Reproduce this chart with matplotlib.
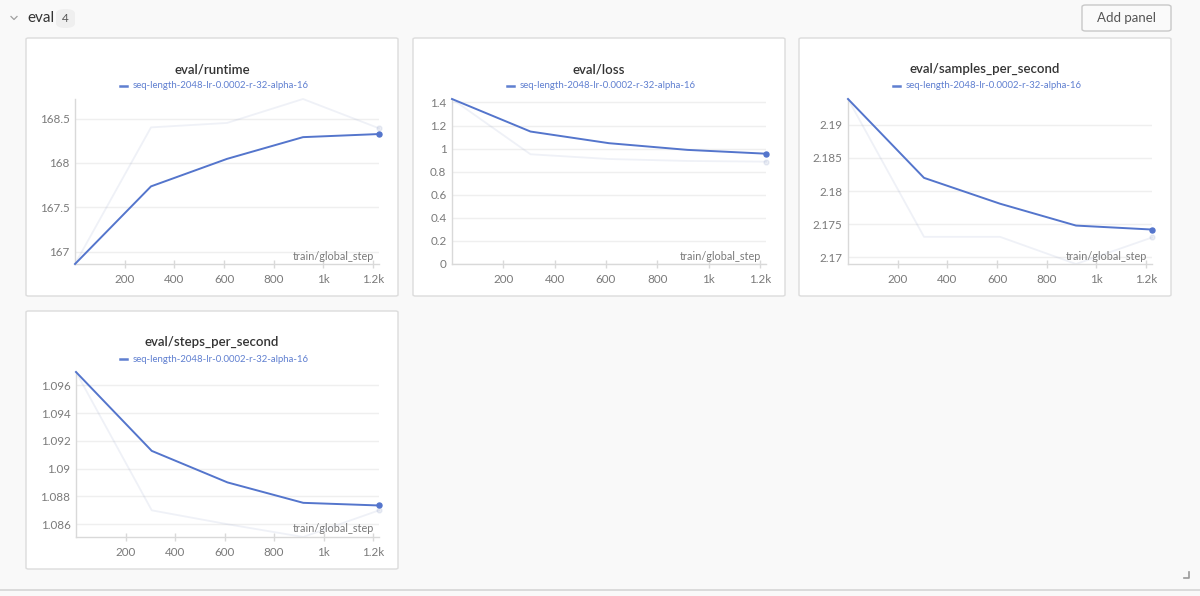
import matplotlib
matplotlib.use("Agg")
import matplotlib.pyplot as plt
from matplotlib.patches import FancyBboxPatch
from matplotlib.lines import Line2D
from matplotlib.ticker import MultipleLocator, FuncFormatter, FixedLocator

plt.rcParams['font.family'] = ['Lato', 'DejaVu Sans']

W, H = 1200, 596

# ---------------- data ----------------
steps = [0, 306, 612, 918, 1224]
run_name = "seq-length-2048-lr-0.0002-r-32-alpha-16"
section_name = "eval"
panel_count = "4"

titles = ["eval/runtime", "eval/loss", "eval/samples_per_second", "eval/steps_per_second"]

runtime_smooth = [166.86, 167.735, 168.045, 168.29, 168.325]
runtime_raw = [166.86, 168.40, 168.45, 168.72, 168.39]

loss_smooth = [1.43, 1.148, 1.047, 0.989, 0.956]
loss_raw = [1.43, 0.951, 0.910, 0.893, 0.887]

sps_smooth = [2.1939, 2.1820, 2.1781, 2.1748, 2.1742]
sps_raw = [2.1939, 2.1731, 2.1731, 2.1690, 2.1730]

stps_smooth = [1.09696, 1.09128, 1.08901, 1.08754, 1.08735]
stps_raw = [1.09696, 1.0870, 1.0860, 1.08508, 1.0870]

x_tick_vals = [200, 400, 600, 800, 1000, 1200]
x_tick_labels = ["200", "400", "600", "800", "1k", "1.2k"]
x_axis_label = "train/global_step"

# ---------------- styling ----------------
BLUE = "#5475cc"
LEG_BLUE = "#5f7fd0"
GRAY_TXT = "#7a7a7a"
BORDER = "#dcdcdc"
BG = "#f9f9f9"

fig = plt.figure(figsize=(W / 100, H / 100), dpi=100, facecolor=BG)


def fx(x):
    return x / W


def fy(y):
    return 1 - y / H


def px_rect(x, y, w, h):
    return [x / W, 1 - (y + h) / H, w / W, h / H]


def fmt(v, pos=None):
    return f"{round(v, 6):g}"


# header
fig.add_artist(Line2D([fx(11), fx(14), fx(17)], [fy(16.5), fy(19.5), fy(16.5)],
                      color="#a0a0a0", lw=0.9, transform=fig.transFigure))
fig.text(fx(27), fy(18.5), section_name, fontsize=11, color="#333333", va="center", ha="left")
fig.add_artist(FancyBboxPatch((fx(56), fy(28)), 19 / W, 19 / H,
                              boxstyle="round,pad=0,rounding_size=0.008",
                              transform=fig.transFigure, fc="#efefef", ec="none"))
fig.text(fx(65.5), fy(18.5), panel_count, fontsize=8.5, color="#555555", va="center", ha="center")

fig.add_artist(FancyBboxPatch((fx(1082), fy(31)), 89 / W, 26 / H,
                              boxstyle="round,pad=0,rounding_size=0.003",
                              transform=fig.transFigure, fc="#fafafa", ec="#c8c8c8", lw=1))
fig.text(fx(1126.5), fy(18.5), "Add panel", fontsize=9.5, color="#555555", va="center", ha="center")

# bottom rule and resize corner
fig.add_artist(Line2D([0, 1], [fy(590), fy(590)], color="#d6d6d6", lw=1.2, transform=fig.transFigure))
fig.add_artist(Line2D([fx(1184), fx(1189), fx(1189)], [fy(578), fy(578), fy(572)],
                      color="#9a9a9a", lw=1.2, transform=fig.transFigure))

panels = [
    dict(pos=(26, 38), left=49, title=titles[0], sm=runtime_smooth, raw=runtime_raw,
         ylim=(min(runtime_raw + runtime_smooth), max(runtime_raw + runtime_smooth)), step=0.5),
    dict(pos=(413, 38), left=39, title=titles[1], sm=loss_smooth, raw=loss_raw,
         ylim=(0, max(loss_raw + loss_smooth)), step=0.2),
    dict(pos=(799, 38), left=49, title=titles[2], sm=sps_smooth, raw=sps_raw,
         ylim=(min(sps_raw + sps_smooth), max(sps_raw + sps_smooth)), step=0.005),
    dict(pos=(26, 311), left=50, title=titles[3], sm=stps_smooth, raw=stps_raw,
         ylim=(min(stps_raw + stps_smooth), max(stps_raw + stps_smooth)), step=0.002),
]

PW, PH = 372, 258

for p in panels:
    x0, y0 = p["pos"]
    fig.add_artist(FancyBboxPatch((fx(x0), fy(y0 + PH)), PW / W, PH / H,
                                  boxstyle="round,pad=0,rounding_size=0.002",
                                  transform=fig.transFigure, fc="white", ec=BORDER, lw=1,
                                  zorder=-5))
    # title and legend
    fig.text(fx(x0 + PW / 2), fy(y0 + 31), p["title"], fontsize=9.5, fontweight="semibold",
             color="#333333", ha="center", va="center")
    fig.add_artist(Line2D([fx(x0 + 94), fx(x0 + 101)], [fy(y0 + 48), fy(y0 + 48)],
                          color=LEG_BLUE, lw=1.8, transform=fig.transFigure))
    fig.text(fx(x0 + 106.5), fy(y0 + 48), run_name, fontsize=6.95, color=LEG_BLUE,
             ha="left", va="center")

    L = p["left"]
    ax = fig.add_axes(px_rect(x0 + L, y0 + 61, 353 - L, 165))
    ax.set_facecolor("none")
    ax.plot(steps, p["raw"], color="#7d8fbf", alpha=0.12, lw=1.3, clip_on=False, zorder=2)
    ax.plot(steps[-1:], p["raw"][-1:], "o", color="#7d8fbf", alpha=0.15, ms=3.5,
            clip_on=False, zorder=2)
    ax.plot(steps, p["sm"], color=BLUE, lw=1.4, clip_on=False, zorder=3)
    ax.plot(steps[-1:], p["sm"][-1:], "o", color=BLUE, ms=3.6, clip_on=False, zorder=4)

    ax.set_xlim(steps[0], steps[-1])
    ax.set_ylim(*p["ylim"])
    ax.xaxis.set_major_locator(FixedLocator(x_tick_vals))
    ax.set_xticklabels(x_tick_labels)
    ax.yaxis.set_major_locator(MultipleLocator(p["step"]))
    ax.yaxis.set_major_formatter(FuncFormatter(fmt))
    ax.grid(axis="y", color="#efefef", lw=1)
    ax.set_axisbelow(True)
    for s in ["top", "right"]:
        ax.spines[s].set_visible(False)
    for s in ["left", "bottom"]:
        ax.spines[s].set_color("#d9d9d9")
        ax.spines[s].set_linewidth(1)
    ax.tick_params(axis="x", direction="inout", length=6, color="#d9d9d9", width=1,
                   labelsize=8.4, labelcolor=GRAY_TXT, pad=4.5)
    ax.tick_params(axis="y", length=0, labelsize=8.4, labelcolor=GRAY_TXT, pad=4)
    ax.annotate(x_axis_label, xy=(1, 0), xycoords="axes fraction", xytext=(-5, 8),
                textcoords="offset pixels", ha="right", va="center", fontsize=7.8,
                color=GRAY_TXT)

fig.savefig("out.png", dpi=100, facecolor=BG)
